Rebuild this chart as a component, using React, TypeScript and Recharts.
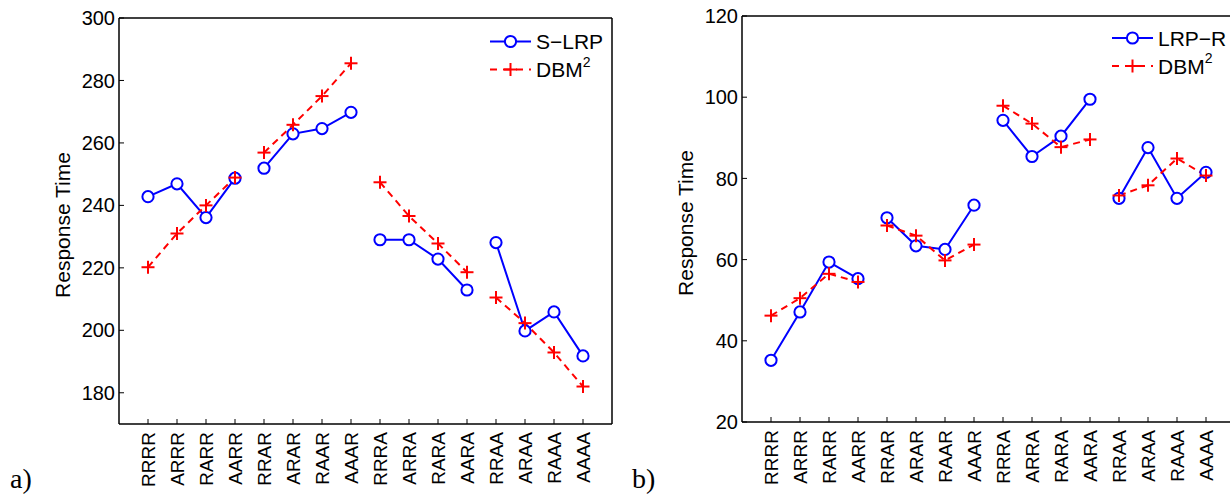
import { LineChart, Line, XAxis, YAxis } from 'recharts';

const CATEGORIES = ['RRRR', 'ARRR', 'RARR', 'AARR', 'RRAR', 'ARAR', 'RAAR', 'AAAR', 'RRRA', 'ARRA', 'RARA', 'AARA', 'RRAA', 'ARAA', 'RAAA', 'AAAA'];

// panel a)
const S_LRP = [242.8, 246.9, 236.1, 248.7, 251.9, 262.9, 264.6, 269.8, 229.0, 229.0, 222.8, 212.9, 228.1, 199.8, 205.9, 191.8];
const DBM2_A = [220.2, 231.0, 240.0, 248.9, 256.9, 265.8, 275.0, 285.5, 247.4, 236.6, 227.8, 218.6, 210.5, 202.3, 192.9, 182.0];
const Y_TICKS_A = [180, 200, 220, 240, 260, 280, 300];

// panel b)
const LRP_R = [35.2, 47.1, 59.4, 55.3, 70.3, 63.4, 62.5, 73.4, 94.3, 85.4, 90.4, 99.5, 75.1, 87.6, 75.1, 81.5];
const DBM2_B = [46.2, 50.5, 56.5, 54.5, 68.4, 65.9, 59.8, 63.7, 97.9, 93.5, 87.7, 89.6, 75.8, 78.3, 84.9, 80.7];
const Y_TICKS_B = [20, 40, 60, 80, 100, 120];

const X_TICKS = CATEGORIES.map((_, i) => i + 1);
const FONT = '"Liberation Sans", Arial, Helvetica, sans-serif';
const SERIF = '"Liberation Serif", "DejaVu Serif", serif';
const BLUE = '#0000ff';
const RED = '#ff0000';

// groups of 4 are not connected, so put a null row between them
function buildRows(a: number[], b: number[]) {
  const rows: any[] = [];
  a.forEach((v, i) => {
    rows.push({ x: i + 1, a: v, b: b[i] });
    if (i % 4 === 3 && i < a.length - 1) rows.push({ x: i + 1.5, a: null, b: null });
  });
  return rows;
}

const CircleDot = (p: any) => {
  if (p.cy == null || p.value == null) return <g key={p.key} />;
  return <circle key={p.key} cx={p.cx} cy={p.cy} r={5.6} fill="#fff" stroke={BLUE} strokeWidth={2} />;
};

const PlusDot = (p: any) => {
  if (p.cy == null || p.value == null) return <g key={p.key} />;
  const s = 6.5;
  return (
    <g key={p.key} stroke={RED} strokeWidth={2}>
      <line x1={p.cx - s} y1={p.cy} x2={p.cx + s} y2={p.cy} />
      <line x1={p.cx} y1={p.cy - s} x2={p.cx} y2={p.cy + s} />
    </g>
  );
};

const XTick = ({ x, y, payload }: any) => (
  <text
    x={x}
    y={y}
    transform={`rotate(-90 ${x} ${y})`}
    textAnchor="end"
    dominantBaseline="central"
    fontSize={19}
    fill="#000"
  >
    {CATEGORIES[payload.value - 1]}
  </text>
);

const axisLine = { stroke: '#000', strokeWidth: 1.5 };
const tickLine = { stroke: '#000', strokeWidth: 1 };

function Panel({ left, top, a, b, domain, yTicks }: any) {
  const rows = buildRows(a, b);
  return (
    <div style={{ position: 'absolute', left, top, width: 640, height: 497 }}>
      <LineChart width={640} height={497} data={rows} margin={{ top: 17, right: 27, bottom: 13, left: 59 }}>
        <XAxis xAxisId="b" dataKey="x" type="number" domain={[0, 17]} ticks={X_TICKS} interval={0}
          height={60} axisLine={axisLine} tickLine={tickLine} tickSize={-5} tickMargin={13} tick={<XTick />} />
        <XAxis xAxisId="t" orientation="top" dataKey="x" type="number" domain={[0, 17]} ticks={X_TICKS} interval={0}
          height={1} axisLine={axisLine} tickLine={tickLine} tickSize={-5} tick={false} />
        <YAxis yAxisId="l" type="number" domain={domain} ticks={yTicks} interval={0} width={60}
          axisLine={axisLine} tickLine={tickLine} tickSize={-5} tickMargin={9}
          tick={{ fontSize: 20, fill: '#000' }} />
        <YAxis yAxisId="r" orientation="right" type="number" domain={domain} ticks={yTicks} interval={0} width={1}
          axisLine={axisLine} tickLine={tickLine} tickSize={-5} tick={false} />
        <Line xAxisId="b" yAxisId="l" dataKey="a" stroke={BLUE} strokeWidth={2} dot={CircleDot}
          activeDot={false} isAnimationActive={false} />
        <Line xAxisId="b" yAxisId="l" dataKey="b" stroke={RED} strokeWidth={2} strokeDasharray="7 5"
          dot={PlusDot} activeDot={false} isAnimationActive={false} />
      </LineChart>
    </div>
  );
}

function LegendItems({ x, y, name }: { x: number; y: number; name: string }) {
  return (
    <g>
      <line x1={x} y1={y} x2={x + 41} y2={y} stroke={BLUE} strokeWidth={2} />
      <circle cx={x + 20.5} cy={y} r={5.6} fill="#fff" stroke={BLUE} strokeWidth={2} />
      <text x={x + 46} y={y} dominantBaseline="central" fontSize={21}>{name}</text>
      <line x1={x} y1={y + 28} x2={x + 41} y2={y + 28} stroke={RED} strokeWidth={2} strokeDasharray="7 6" />
      <line x1={x + 14} y1={y + 28} x2={x + 27} y2={y + 28} stroke={RED} strokeWidth={2} />
      <line x1={x + 20.5} y1={y + 21.5} x2={x + 20.5} y2={y + 34.5} stroke={RED} strokeWidth={2} />
      <text x={x + 46} y={y + 28} dominantBaseline="central" fontSize={21}>
        DBM<tspan fontSize={14} dy={-8}>2</tspan>
      </text>
    </g>
  );
}

export default function App() {
  return (
    <div style={{ position: 'absolute', left: 0, top: 0, width: 1230, height: 497, background: '#fff', overflow: 'hidden', fontFamily: FONT }}>
      <Panel left={0} top={0} a={S_LRP} b={DBM2_A} domain={[170, 300]} yTicks={Y_TICKS_A} />
      <Panel left={623} top={-2} a={LRP_R} b={DBM2_B} domain={[20, 120]} yTicks={Y_TICKS_B} />
      <svg width={1230} height={497} style={{ position: 'absolute', left: 0, top: 0, pointerEvents: 'none' }}>
        <text x={62} y={225} transform="rotate(-90 62 225)" textAnchor="middle" dominantBaseline="central" fontSize={21}>Response Time</text>
        <text x={685} y={223} transform="rotate(-90 685 223)" textAnchor="middle" dominantBaseline="central" fontSize={21}>Response Time</text>
        <LegendItems x={490} y={41.5} name="S−LRP" />
        <LegendItems x={1112} y={38} name="LRP−R" />
        <text x={10} y={488} fontSize={28} fontFamily={SERIF}>a)</text>
        <text x={632} y={488} fontSize={28} fontFamily={SERIF}>b)</text>
      </svg>
    </div>
  );
}
